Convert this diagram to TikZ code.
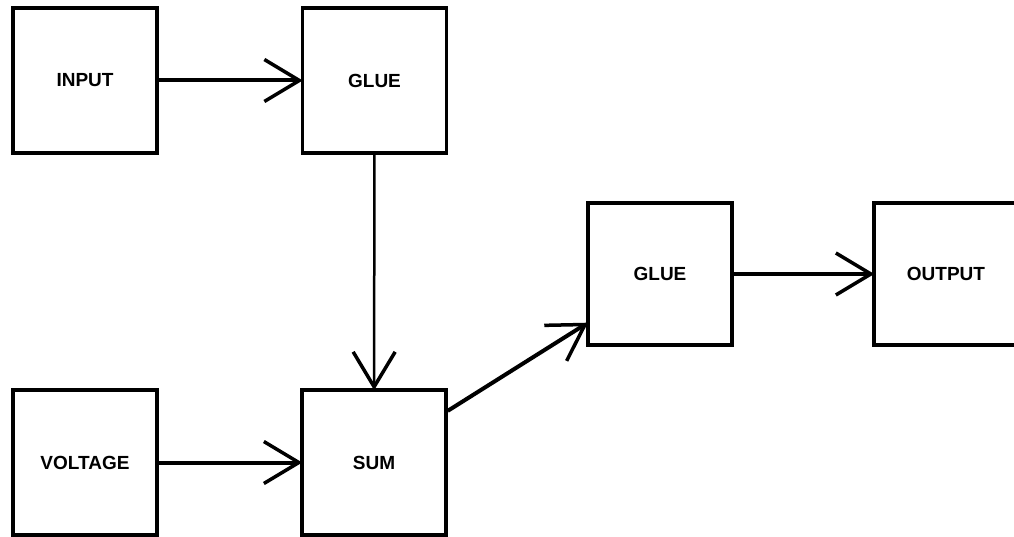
\documentclass[tikz,border=0pt]{standalone}
\usepackage{fontspec}
\setmainfont{Liberation Sans}
\usepackage{tikz}
\usetikzlibrary{arrows.meta, positioning}
\tikzset{
  blockNode/.style={
    draw=black,
    line width=3.5pt,
    align=center,
    minimum width=144pt,
    minimum height=145pt,
    inner sep=0pt,
    font=\fontsize{19}{21}\selectfont\bfseries
  },
  signalFlow/.style={-{Straight Barb[length=35pt,width=42pt,line width=3.5pt]}, line width=4pt, draw=black, shorten >=-2pt},
  thinFlow/.style={signalFlow, line width=2.5pt}
}
\begin{document}
\begin{tikzpicture}[x=1pt, y=-1pt]
  \useasboundingbox (0,0) rectangle (1014,537);
  \node[blockNode] (input) at (85,80.5) {INPUT};
  \node[blockNode] (glueA) at (374.5,80.5) {GLUE};
  \node[blockNode] (voltage) at (85,462.5) {VOLTAGE};
  \node[blockNode] (sum) at (374,462.5) {SUM};
  \node[blockNode, minimum height=142pt] (glueB) at (660,274) {GLUE};
  \node[blockNode, minimum height=142pt] (output) at (946,274) {OUTPUT};

  \draw[signalFlow] (input) -- (glueA);
  \draw[thinFlow] (glueA) -- (sum);
  \draw[signalFlow] (voltage) -- (sum);
  \draw[signalFlow] (sum.35) -- (glueB.214);
  \draw[signalFlow] (glueB) -- (output);
\end{tikzpicture}
\end{document}
